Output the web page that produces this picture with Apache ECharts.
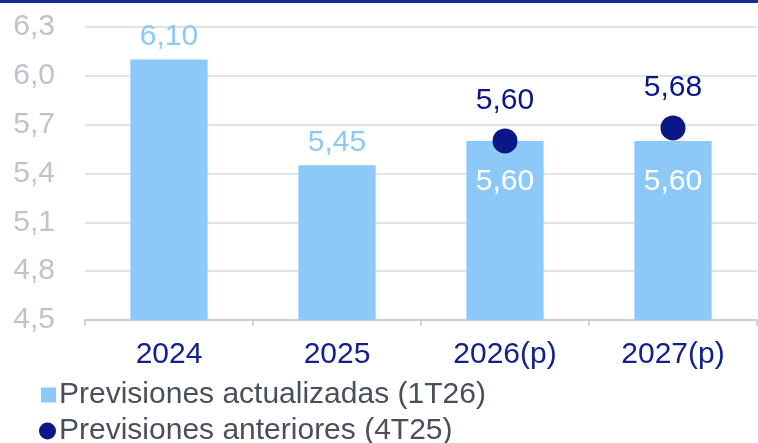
<!DOCTYPE html>
<html>
<head>
<meta charset="utf-8">
<script src="https://cdn.jsdelivr.net/npm/echarts@6/dist/echarts.min.js"></script>
<style>
  html, body { margin: 0; padding: 0; background: #fff; }
  #frame { width: 758px; height: 443px; position: relative; overflow: hidden; }
  #topline { position: absolute; left: 0; top: 0; width: 758px; height: 3px; background: #1b2a8e; z-index: 2; }
  #chart { width: 758px; height: 443px; }
</style>
</head>
<body>
<div id="frame">
  <div id="topline"></div>
  <div id="chart"></div>
</div>
<script>
// Categories and series values
const years = ['2024', '2025', '2026(p)', '2027(p)'];
const updated = [6.10, 5.45, 5.60, 5.60];      // Previsiones actualizadas (1T26)
const previous = [null, null, 5.60, 5.68];     // Previsiones anteriores (4T25)
const seriesNames = ['Previsiones actualizadas (1T26)', 'Previsiones anteriores (4T25)'];
const yMin = 4.5, yMax = 6.3, yStep = 0.3;
// Years whose bar label sits inside the bar (white)
const insideLabelYears = ['2026(p)', '2027(p)'];

const FONT = '"Liberation Sans", Arial, sans-serif';
const BAR = '#8cc9f8';
const NAVY = '#0b1787';
const fmt2 = v => v.toFixed(2).replace('.', ',');

const barData = updated.map((v, i) => {
  const inside = insideLabelYears.includes(years[i]);
  return {
    value: v,
    label: inside
      ? { position: 'insideTop', distance: 26, color: '#ffffff' }
      : { position: 'top', distance: 8, color: '#8ccaf5' }
  };
});

const legendText = { fontFamily: FONT, fontSize: 30, color: '#4a4f5c', padding: [0, 0, 0, -2] };

const chart = echarts.init(document.getElementById('chart'), null, { renderer: 'canvas' });
chart.setOption({
  animation: false,
  backgroundColor: '#ffffff',
  grid: { left: 85, right: 1, top: 27, bottom: 123, containLabel: false },
  legend: [
    {
      left: 36, top: 375, itemWidth: 15, itemHeight: 15,
      textStyle: legendText,
      data: [{ name: seriesNames[0], icon: 'rect' }]
    },
    {
      left: 34, top: 411, itemWidth: 17, itemHeight: 17,
      textStyle: legendText,
      data: [{ name: seriesNames[1], icon: 'circle' }]
    }
  ],
  xAxis: {
    type: 'category',
    data: years,
    boundaryGap: true,
    axisLine: { show: true, lineStyle: { color: '#c8c8c8', width: 1.5 } },
    axisTick: { show: true, alignWithLabel: false, length: 6, lineStyle: { color: '#c8c8c8', width: 1.5 } },
    axisLabel: { fontFamily: FONT, fontSize: 30, color: '#14208c', margin: 20 }
  },
  yAxis: {
    type: 'value',
    min: yMin,
    max: yMax,
    interval: yStep,
    axisLine: { show: false },
    axisTick: { show: false },
    splitLine: { lineStyle: { color: '#d9d9d9', width: 1.5 } },
    axisLabel: {
      fontFamily: FONT, fontSize: 30, color: '#bfc3cb', margin: 30,
      formatter: v => v.toFixed(1).replace('.', ',')
    }
  },
  series: [
    {
      name: seriesNames[0],
      type: 'bar',
      data: barData,
      barWidth: '46%',
      itemStyle: { color: BAR },
      label: {
        show: true,
        fontFamily: FONT,
        fontSize: 30,
        formatter: p => fmt2(p.value)
      },
      z: 2
    },
    {
      name: seriesNames[1],
      type: 'scatter',
      data: previous,
      symbol: 'circle',
      symbolSize: 25,
      itemStyle: { color: NAVY, opacity: 1 },
      label: {
        show: true,
        position: 'top',
        distance: 13,
        fontFamily: FONT,
        fontSize: 30,
        color: NAVY,
        formatter: p => fmt2(p.value)
      },
      z: 3
    }
  ]
});
</script>
</body>
</html>
